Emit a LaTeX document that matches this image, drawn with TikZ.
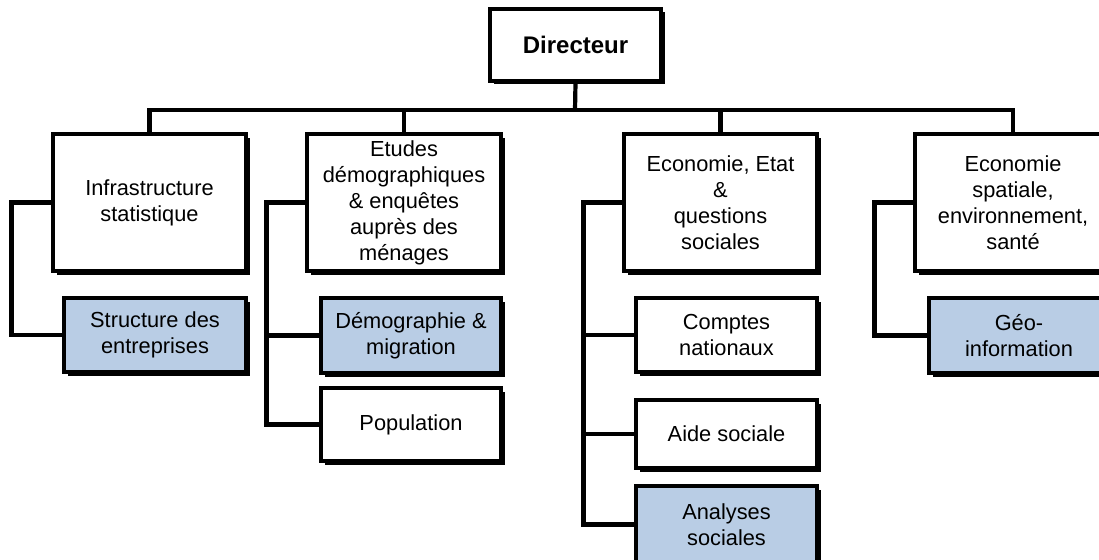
\documentclass[tikz,border=0pt]{standalone}
\usepackage{fontspec}
\setmainfont{Liberation Sans}
\usetikzlibrary{shadows}
\definecolor{unitblue}{RGB}{185,205,229}
\begin{document}
\begin{tikzpicture}[x=1pt,y=-1pt,
  unit/.style={draw=black, line width=3.2pt, fill=white, inner sep=0pt, align=center,
    font=\fontsize{21.8}{26}\selectfont,
    drop shadow={shadow xshift=3.5pt, shadow yshift=-3.5pt, opacity=1, fill=black}},
  hl/.style={unit, fill=unitblue},
  link/.style={line width=4.2pt, line join=miter}]
\useasboundingbox (0,0) rectangle (1099,559);

% head of the organisation
\node[unit, minimum width=171pt, minimum height=72pt, font=\fontsize{24}{28}\selectfont\bfseries]
  (dir) at (575.5,45) {Directeur};

% divisions
\node[unit, minimum width=193pt, minimum height=137pt] (infra) at (149.5,202.5)
  {Infrastructure\\statistique};
\node[unit, minimum width=194pt, minimum height=137pt] (etudes) at (404,202.5)
  {Etudes\\démographiques\\\& enquêtes\\auprès des\\ménages};
\node[unit, minimum width=193pt, minimum height=137pt] (econ) at (720.5,202.5)
  {Economie, Etat\\\&\\questions\\sociales};
\node[unit, minimum width=196pt, minimum height=137pt] (spat) at (1013,202.5)
  {Economie\\spatiale,\\environnement,\\santé};

% sections
\node[hl, minimum width=182pt, minimum height=74pt] (struct) at (155,335)
  {Structure des\\entreprises};
\node[hl, minimum width=180pt, minimum height=75pt] (demo) at (411,335.5)
  {Démographie \&\\migration};
\node[unit, minimum width=180pt, minimum height=73pt] (pop) at (411,424.5)
  {Population};
\node[unit, minimum width=181pt, minimum height=74pt] (comptes) at (726.5,335)
  {Comptes\\nationaux};
\node[unit, minimum width=181pt, minimum height=68pt] (aide) at (726.5,434)
  {Aide sociale};
\node[hl, minimum width=181pt, minimum height=77pt] (ana) at (726.5,524.5)
  {Analyses\\sociales};
\node[hl, minimum width=180pt, minimum height=75pt] (geo) at (1019,335.5)
  {Géo-\\information};

% top-level bus
\coordinate (bus) at (575,110);
\draw[link] (dir.south) -- (bus);
\draw[link] (infra.north) |- (bus) -| (spat.north);
\draw[link] (etudes.north) -- (etudes.north |- bus);
\draw[link] (econ.north) -- (econ.north |- bus);

% division to section links
\draw[link] (infra.west) -- ++(-40,0) |- (struct.west);
\draw[link] (etudes.west) -- ++(-39,0) coordinate (etj) |- (pop.west);
\draw[link] (etj |- demo.west) -- (demo.west);
\draw[link] (econ.west) -- ++(-39,0) coordinate (ecj) |- (ana.west);
\draw[link] (ecj |- comptes.west) -- (comptes.west);
\draw[link] (ecj |- aide.west) -- (aide.west);
\draw[link] (spat.west) -- ++(-39,0) |- (geo.west);
\end{tikzpicture}
\end{document}
